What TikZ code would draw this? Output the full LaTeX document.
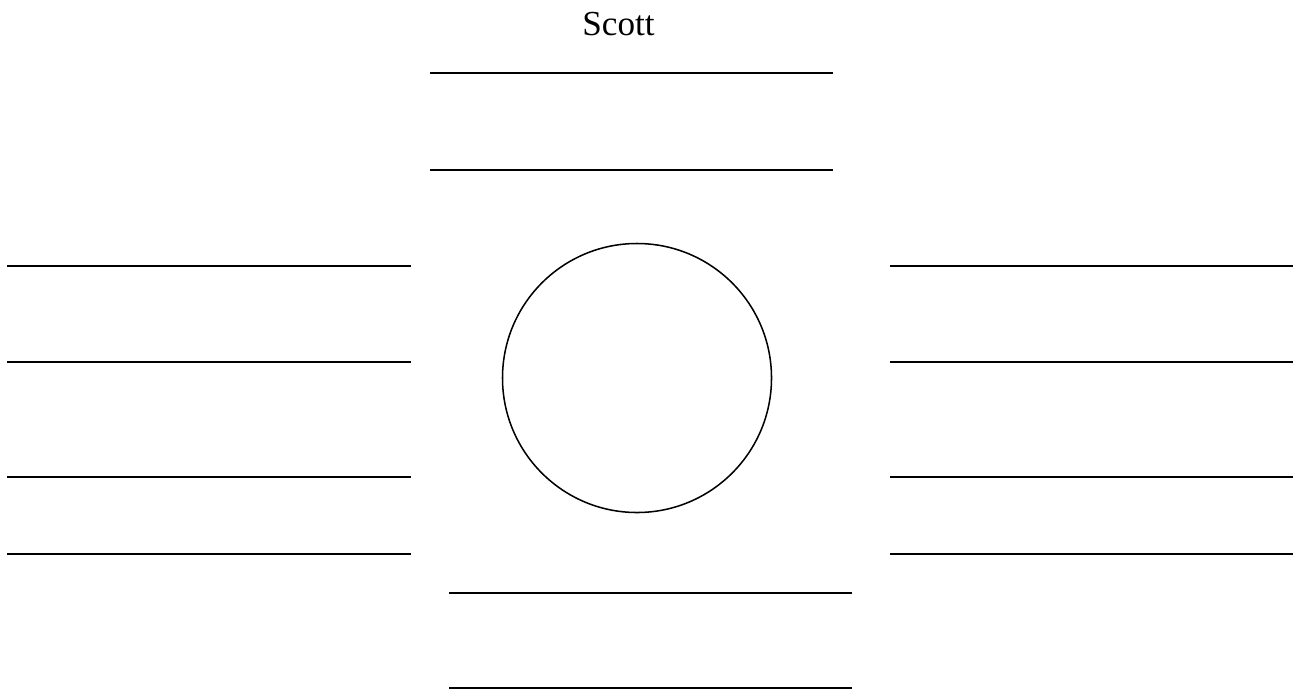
\documentclass[tikz,border=0pt]{standalone}
\usepackage{fontspec}
\setmainfont{Liberation Serif}
\usetikzlibrary{positioning}

\begin{document}
\begin{tikzpicture}[
    x=0.03cm, y=-0.03cm,
    blank/.style={draw, line width=1.7pt},
    ring/.style={circle, draw, line width=1.3pt, minimum size=8.07cm, inner sep=0pt},
    title/.style={font=\fontsize{30}{36}\selectfont, anchor=base}
]
\useasboundingbox (0,0) rectangle (1298,688);

% Title and centre circle
\node[title] (name) at (618.5,35) {Scott};
\node[ring] (face) at (637,378) {};

% Top and bottom blanks
\foreach \y [count=\i] in {73,170} {
    \draw[blank] (430,\y) coordinate (top\i a) -- (833,\y) coordinate (top\i b);
}
\foreach \y [count=\i] in {593,687.5} {
    \draw[blank] (449,\y) coordinate (bot\i a) -- (852,\y) coordinate (bot\i b);
}

% Side blanks
\foreach \y [count=\i] in {266,362,477,554} {
    \draw[blank] (7,\y) coordinate (left\i a) -- (411,\y) coordinate (left\i b);
    \draw[blank] (890,\y) coordinate (right\i a) -- (1293,\y) coordinate (right\i b);
}

\end{tikzpicture}
\end{document}
